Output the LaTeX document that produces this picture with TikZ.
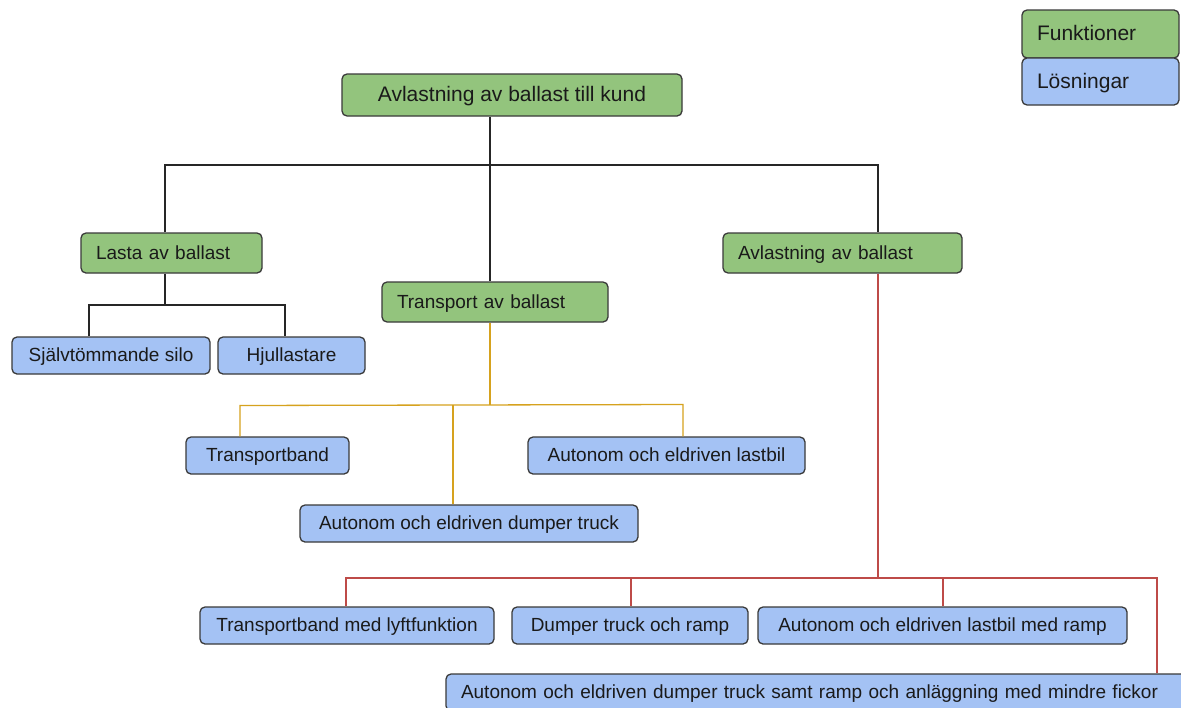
\documentclass[tikz,border=0pt]{standalone}
\usepackage{fontspec}
\setmainfont{Liberation Sans}
\definecolor{fgreen}{HTML}{93C47D}
\definecolor{fblue}{HTML}{A4C2F4}
\definecolor{bordergray}{HTML}{3A3A3A}
\definecolor{lineyellow}{HTML}{D6A21E}
\definecolor{linered}{HTML}{BE4B48}
\definecolor{textdark}{HTML}{1A1A1A}
\tikzset{
  box/.style={draw=bordergray, line width=1.3pt, rounded corners=5pt, inner sep=0pt, text=textdark, text height=15pt, text depth=3pt, font=\fontsize{19}{22}\selectfont},
  func/.style={box, fill=fgreen},
  sol/.style={box, fill=fblue},
  wh/.style 2 args={minimum width=#1, minimum height=#2},
  conn/.style={line width=1.3pt, draw=black!85},
}
\begin{document}
\begin{tikzpicture}[x=1pt,y=-1pt]
\clip (0,0) rectangle (1181,707);
\fill[white] (0,0) rectangle (1181,707);
% legend
\node[func, wh={157pt}{48pt}, align=left, text width=127pt, font=\fontsize{21}{24}\selectfont, text height=16pt] (lf) at (1100.5,34) {Funktioner};
\node[sol, wh={157pt}{47pt}, align=left, text width=127pt, font=\fontsize{21}{24}\selectfont, text height=16pt] (ls) at (1100.5,81.5) {Lösningar};
% functions
\node[func, wh={340pt}{42pt}, font=\fontsize{21}{24}\selectfont, text height=16pt] (top) at (512,95) {Avlastning av ballast till kund};
\node[func, wh={181pt}{40pt}, align=left, text width=151pt] (lasta) at (171.5,253) {Lasta av ballast};
\node[func, wh={239pt}{40pt}, align=left, text width=209pt] (avl) at (842.5,253) {Avlastning av ballast};
\node[func, wh={226pt}{40pt}, align=left, text width=196pt] (trans) at (495,302) {Transport av ballast};
% solutions
\node[sol, wh={198pt}{37pt}] (silo) at (111,355.5) {Självtömmande silo};
\node[sol, wh={147pt}{37pt}] (hjul) at (291.5,355.5) {Hjullastare};
\node[sol, wh={163pt}{37pt}] (tb) at (267.5,455.5) {Transportband};
\node[sol, wh={277pt}{37pt}] (lastbil) at (666.5,455.5) {Autonom och eldriven lastbil};
\node[sol, wh={338pt}{37pt}] (dumper) at (469,523.5) {Autonom och eldriven dumper truck};
\node[sol, wh={294pt}{37pt}] (tbl) at (347,625.5) {Transportband med lyftfunktion};
\node[sol, wh={236pt}{37pt}] (dtr) at (630,625.5) {Dumper truck och ramp};
\node[sol, wh={369pt}{37pt}] (alr) at (942.5,625.5) {Autonom och eldriven lastbil med ramp};
\node[sol, wh={744pt}{37pt}, align=left, text width=714pt] (bot) at (818,692.5) {Autonom och eldriven dumper truck samt ramp och anläggning med mindre fickor};
% black connectors
\coordinate (bL) at (165,165);
\coordinate (bM) at (490,165);
\coordinate (bR) at (878,165);
\draw[conn] (lasta.north -| bL) -- (bL) -- (bR) -- (avl.north -| bR);
\draw[conn] (top.south -| bM) -- (trans.north -| bM);
\coordinate (lM) at (165,305);
\coordinate (lL) at (89,305);
\coordinate (lR) at (285,305);
\draw[conn] (lasta.south -| lM) -- (lM);
\draw[conn] (silo.north -| lL) -- (lL) -- (lR) -- (hjul.north -| lR);
% yellow connectors
\coordinate (yM) at (490,405);
\coordinate (yL) at (240,405.5);
\coordinate (yR) at (683,404.5);
\coordinate (yC) at (453,405);
\draw[conn, draw=lineyellow] (trans.south -| yM) -- (yM);
\draw[conn, draw=lineyellow] (tb.north -| yL) -- (yL) -- (yR) -- (lastbil.north -| yR);
\draw[conn, draw=lineyellow] (yC) -- (dumper.north -| yC);
% red connectors
\coordinate (rM) at (878,578);
\coordinate (rL) at (346,578);
\coordinate (rR) at (1157,578);
\coordinate (r2) at (631,578);
\coordinate (r3) at (943,578);
\draw[conn, draw=linered] (avl.south -| rM) -- (rM);
\draw[conn, draw=linered] (tbl.north -| rL) -- (rL) -- (rR) -- (bot.north -| rR);
\draw[conn, draw=linered] (r2) -- (dtr.north -| r2);
\draw[conn, draw=linered] (r3) -- (alr.north -| r3);
\end{tikzpicture}
\end{document}
